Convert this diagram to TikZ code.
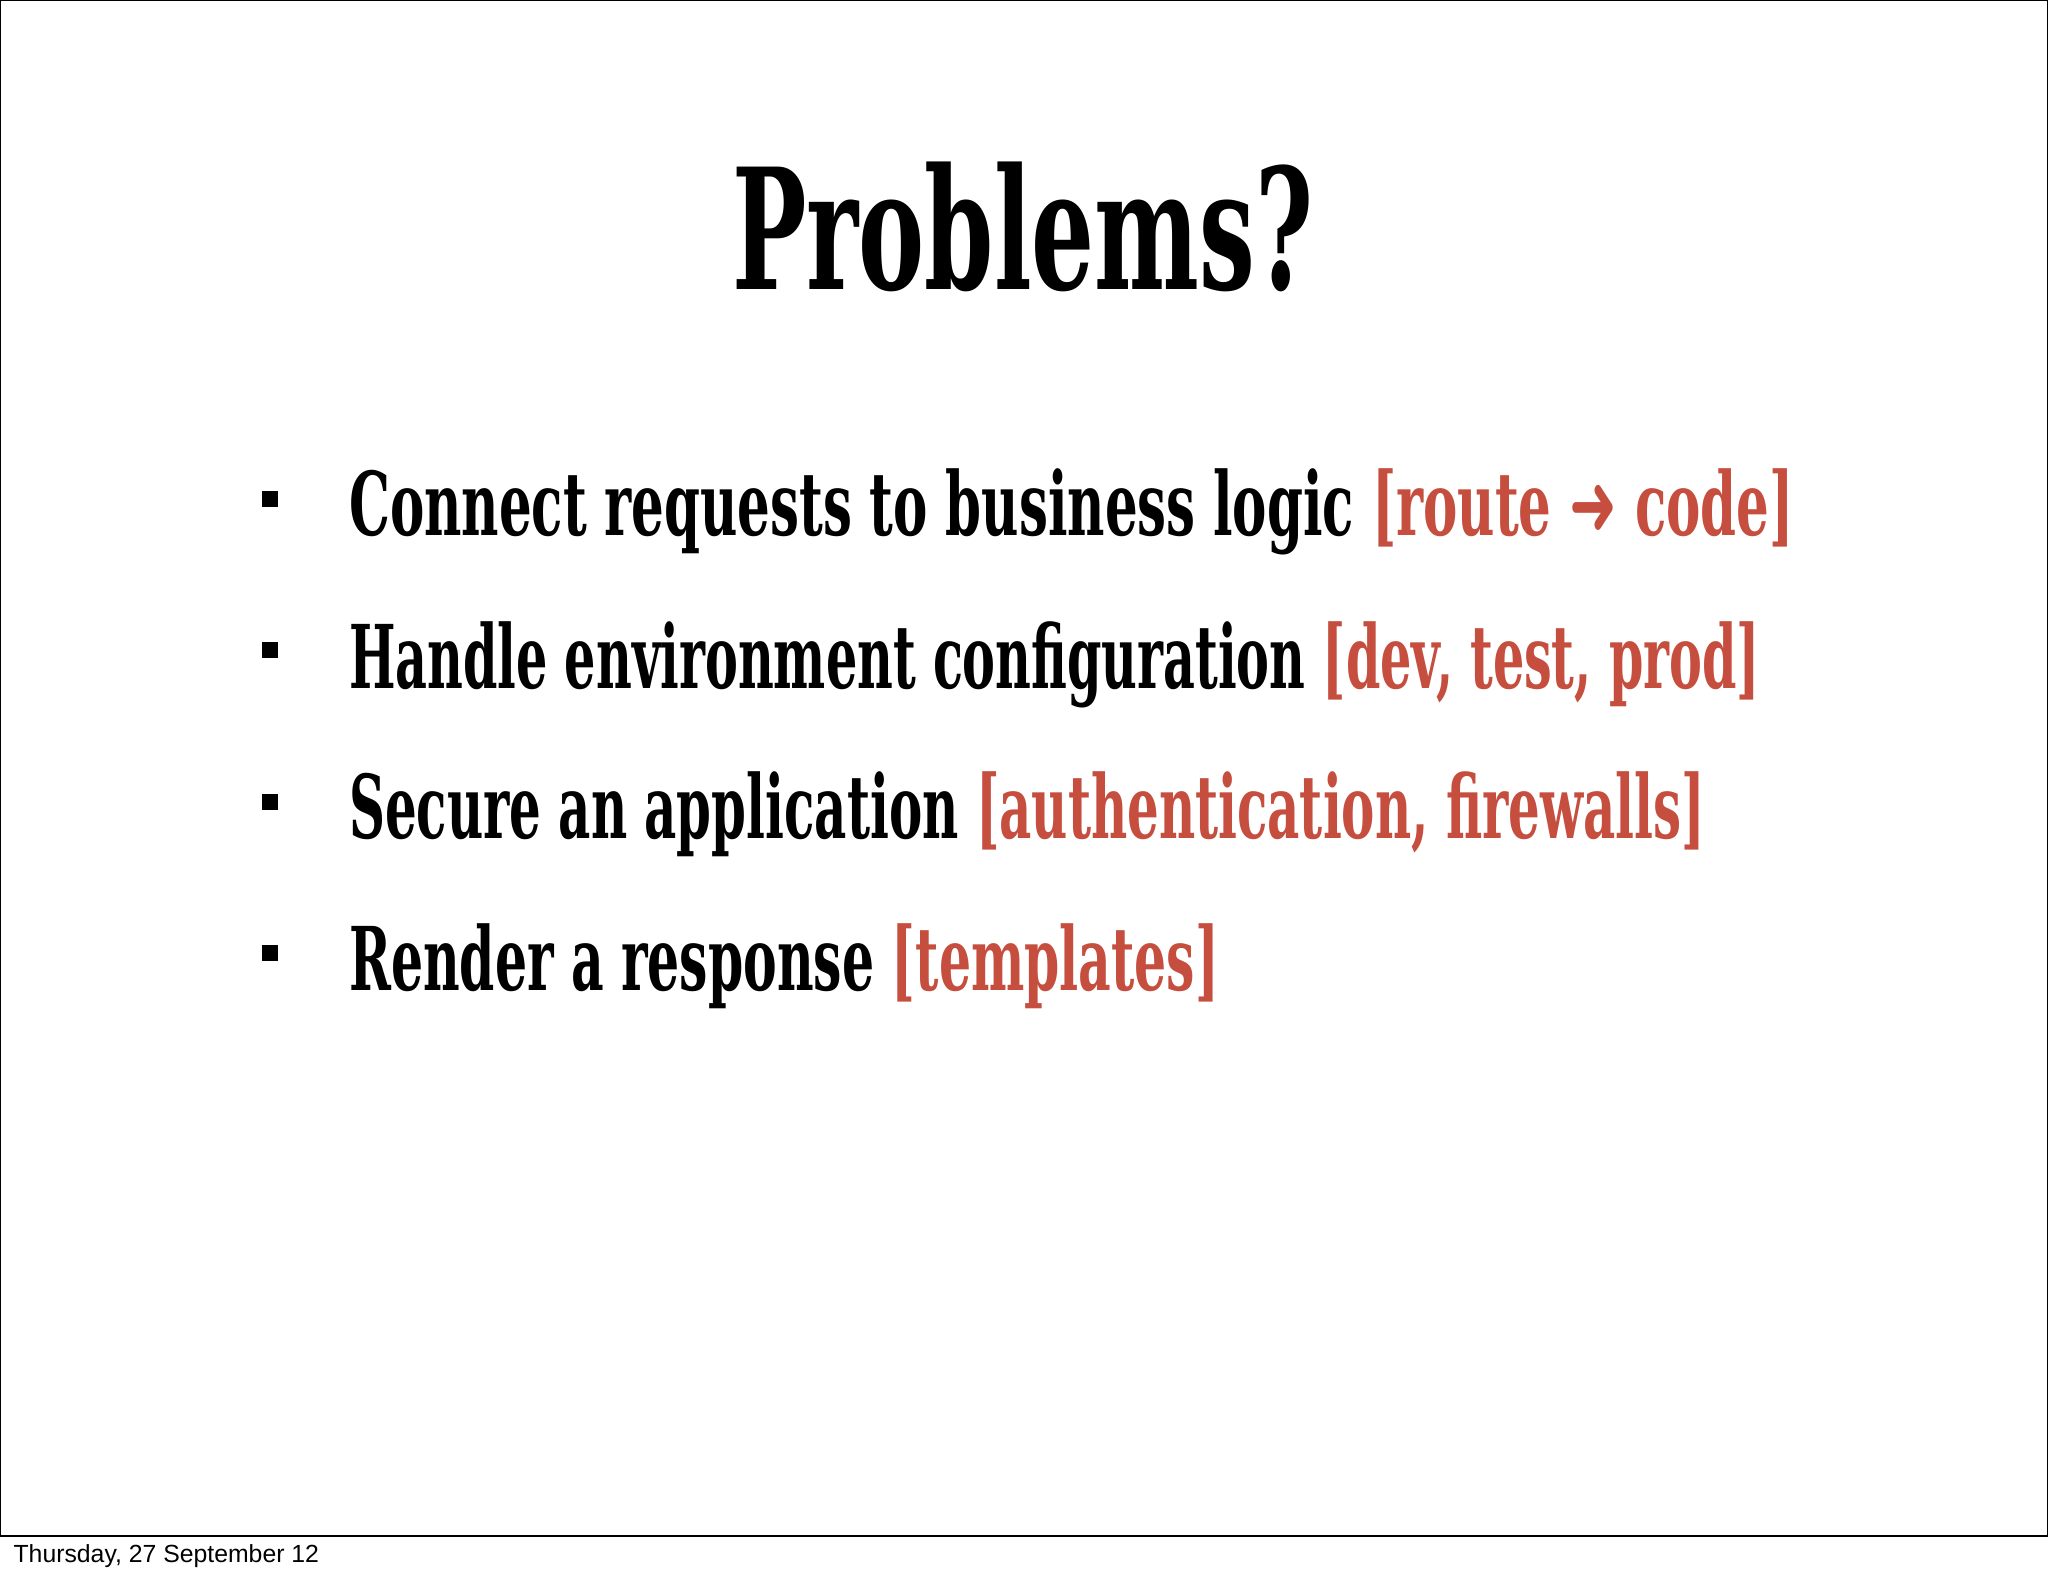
\documentclass[tikz,border=0pt]{standalone}
\usepackage{fontspec}
\setmainfont{DejaVu Serif Condensed}
\newfontfamily\arrowfont{DejaVu Sans}
\newfontfamily\footfont{Liberation Sans}
\definecolor{hl}{RGB}{198,78,62}
\tikzset{line/.style={anchor=base west,inner sep=0pt,font=\fontsize{33}{40}\selectfont\bfseries},
bul/.style={fill=black,minimum size=6pt,inner sep=0pt}}
\begin{document}
\begin{tikzpicture}[x=0.49pt,y=-0.49pt]
\useasboundingbox (0,0) rectangle (1568,1206.7);
\fill[white] (0,0) rectangle (1568,1206.7);
\draw[line width=0.6pt] (0.5,0.5) rectangle (1567.5,1176);
\node[anchor=base,inner sep=0pt,font=\fontsize{63}{70}\selectfont\bfseries] (t) at (783,222) {\resizebox{218pt}{\height}{Problems?}};
\foreach \y/\n in {382/b1,498/b2,614/b3,730/b4}{\node[bul] (\n) at (207,\y) {};}
\node[line] (l1) at (267,410) {\resizebox{541.9pt}{\height}{Connect requests to business logic \textcolor{hl}{[route {\arrowfont ➜} code]}}};
\node[line] (l2) at (267,527) {\resizebox{529.2pt}{\height}{Handle environment configuration \textcolor{hl}{[dev, test, prod]}}};
\node[line] (l3) at (267,642) {\resizebox{508.6pt}{\height}{Secure an application \textcolor{hl}{[authentication, firewalls]}}};
\node[line] (l4) at (267,758) {\resizebox{326.3pt}{\height}{Render a response \textcolor{hl}{[templates]}}};
\node[anchor=base west,inner sep=0pt,font=\footfont\fontsize{9.3}{10}\selectfont] (f) at (10,1196) {Thursday, 27 September 12};
\end{tikzpicture}
\end{document}
